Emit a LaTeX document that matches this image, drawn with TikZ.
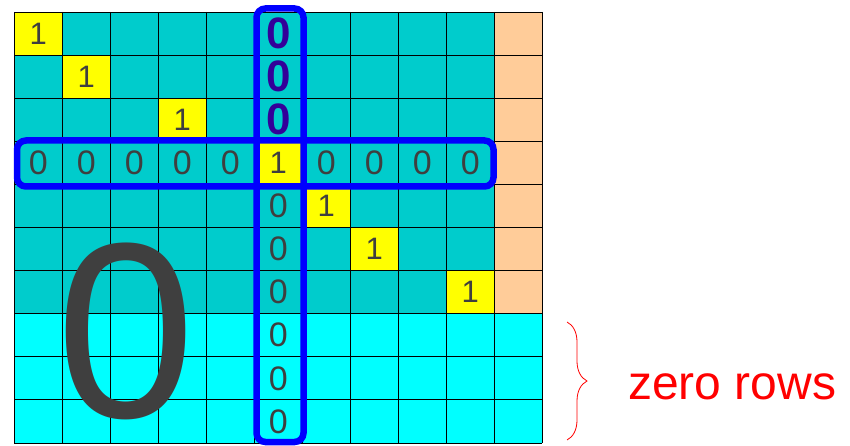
\documentclass[tikz,border=0pt]{standalone}
\usepackage{fontspec}
\setmainfont{Liberation Sans}
\usetikzlibrary{decorations.pathreplacing}
\definecolor{tealc}{HTML}{00CCCC}
\definecolor{cyanc}{HTML}{00FFFF}
\definecolor{yell}{HTML}{FFFF00}
\definecolor{peach}{HTML}{FFCC99}
\definecolor{txt}{HTML}{3F3F3F}
\definecolor{purp}{HTML}{330099}
\definecolor{bl}{HTML}{0000FF}
\begin{document}
\begin{tikzpicture}[x=1pt,y=-1pt,
  zer/.style={font=\fontsize{34}{34}\selectfont, text=txt, inner sep=0pt},
  one/.style={font=\fontsize{31}{31}\selectfont, text=txt, inner sep=0pt},
  bz/.style={font=\fontsize{44}{44}\selectfont\bfseries, text=purp, inner sep=0pt},
  bluebox/.style={draw=bl, line width=6.5pt, rounded corners=9pt},
  gridl/.style={draw=black, line width=0.9pt}]
\useasboundingbox (0,0) rectangle (850,446);
% fills
\fill[tealc] (14.3,12) rectangle (494.3,313.7);
\fill[peach] (494.3,12) rectangle (542.3,313.7);
\fill[cyanc] (14.3,313.7) rectangle (542.3,443);
\foreach \r/\c in {1/1,2/2,3/4,4/6,5/7,6/8,7/10}{
  \fill[yell] ({14.3+48*(\c-1)},{12+43.1*(\r-1)}) rectangle ({14.3+48*\c},{12+43.1*\r});
}
% grid
\foreach \i in {0,...,11}{
  \draw[gridl] ({14.3+48*\i},12) -- ({14.3+48*\i},443);
}
\foreach \j in {0,...,10}{
  \draw[gridl] (14.3,{12+43.1*\j}) -- (542.3,{12+43.1*\j});
}
% ones on the diagonal
\foreach \r/\c in {1/1,2/2,3/4,4/6,5/7,6/8,7/10}{
  \node[one] (o-\r-\c) at ({14.3+48*(\c-0.5)},{12+43.1*(\r-0.5)}) {1};
}
% row 4 zeros
\foreach \c in {1,2,3,4,5,7,8,9,10}{
  \node[zer] (z-4-\c) at ({14.3+48*(\c-0.5)},{12+43.1*3.5}) {0};
}
% column 6 zeros
\foreach \r in {1,2,3}{
  \node[bz] (z-\r-6) at ({14.3+48*5.5},{12+43.1*(\r-0.5)}) {0};
}
\foreach \r in {5,...,10}{
  \node[zer] (z-\r-6) at ({14.3+48*5.5},{12+43.1*(\r-0.5)}) {0};
}
% blue boxes
\draw[bluebox] (256.5,8.5) rectangle (303.5,442);
\draw[bluebox] (17,140.5) rectangle (493.5,186.5);
% big zero
\node[font=\fontsize{250}{250}\selectfont, text=txt, inner sep=0pt] (big) at (126,331) {0};
% brace and label
\coordinate (bt) at (567,322);
\coordinate (bb) at (567,440);
\draw[red, line width=0.8pt, decorate, decoration={brace, amplitude=20pt}] (bt) -- (bb);
\node[font=\fontsize{48}{48}\selectfont, text=red, anchor=base west, inner sep=0pt] (lab) at (628,399) {zero rows};
\end{tikzpicture}
\end{document}
